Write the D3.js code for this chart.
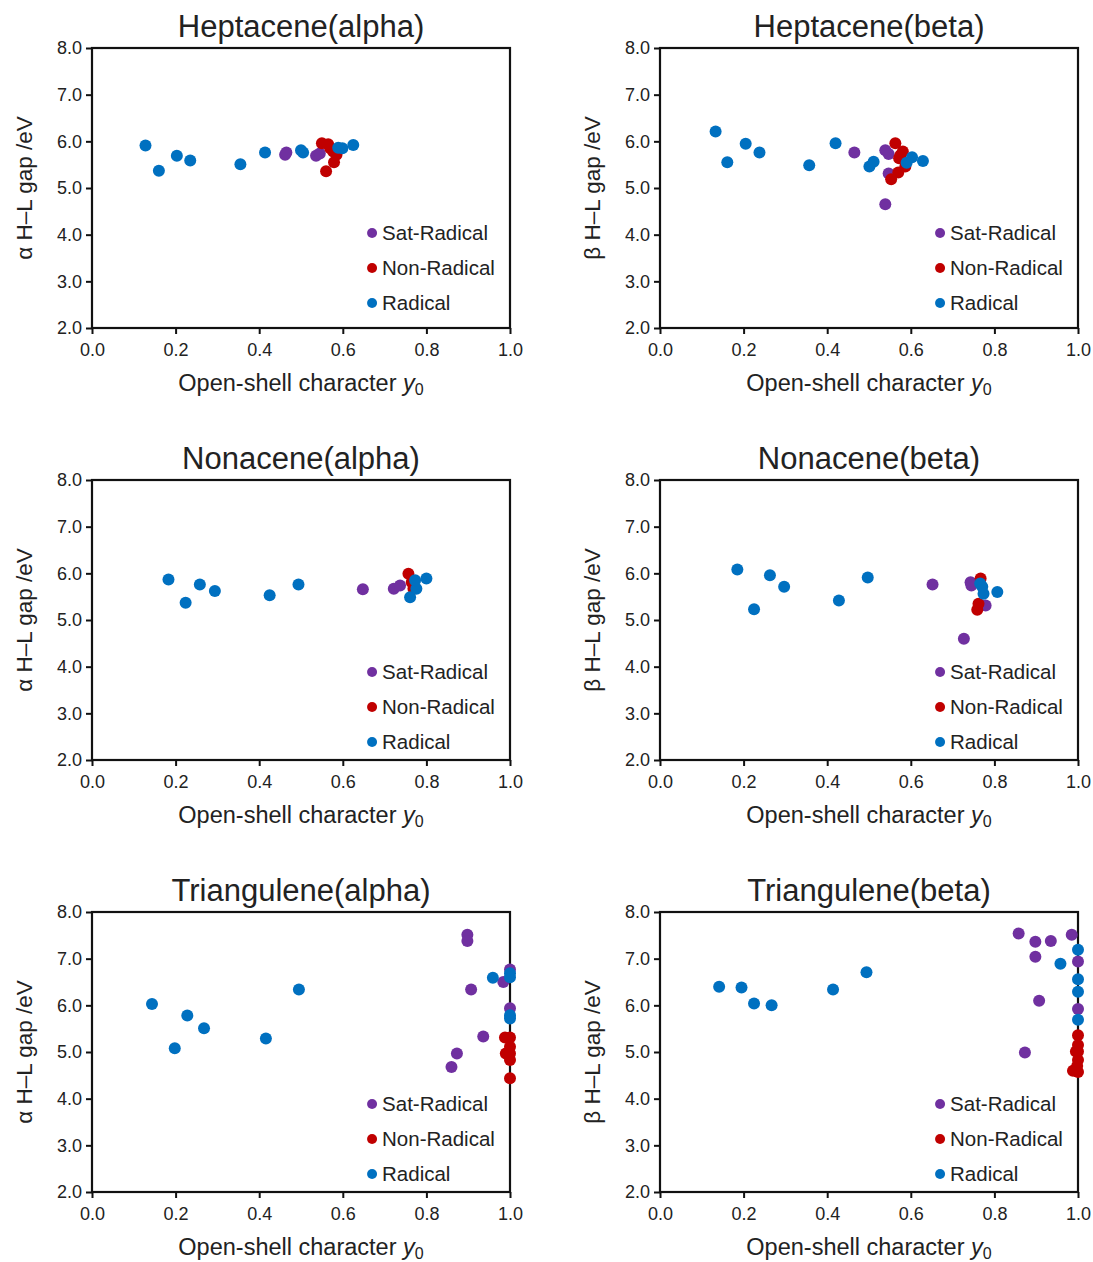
<!DOCTYPE html>
<html>
<head>
<meta charset="utf-8">
<script src="https://cdn.jsdelivr.net/npm/d3@7"></script>
<style>
  body { margin: 0; background: #fff; }
  text { font-family: Arial, "Liberation Sans", sans-serif; fill: #222; }
</style>
</head>
<body>
<div id="chart"></div>
<script>
// [open-shell character y0, H-L gap eV]
var heptaAlphaSat = [[0.462,5.71],[0.465,5.76],[0.536,5.69],[0.545,5.74]];
var heptaAlphaNon = [[0.55,5.96],[0.565,5.94],[0.57,5.85],[0.577,5.78],[0.585,5.71],[0.579,5.55],[0.56,5.36]];
var heptaAlphaRad = [[0.128,5.91],[0.16,5.37],[0.203,5.69],[0.235,5.59],[0.355,5.51],[0.414,5.76],[0.50,5.81],[0.505,5.76],[0.589,5.86],[0.599,5.85],[0.625,5.92]];

var heptaBetaSat = [[0.465,5.76],[0.539,5.81],[0.547,5.73],[0.547,5.31],[0.539,4.65]];
var heptaBetaNon = [[0.563,5.96],[0.581,5.78],[0.575,5.70],[0.572,5.64],[0.587,5.46],[0.57,5.33],[0.553,5.19]];
var heptaBetaRad = [[0.133,6.21],[0.161,5.55],[0.205,5.95],[0.238,5.76],[0.357,5.49],[0.42,5.96],[0.501,5.46],[0.511,5.56],[0.59,5.54],[0.603,5.66],[0.629,5.58]];

var nonaAlphaSat = [[0.648,5.66],[0.722,5.67],[0.737,5.74]];
var nonaAlphaNon = [[0.757,5.99],[0.765,5.81],[0.769,5.67]];
var nonaAlphaRad = [[0.183,5.87],[0.224,5.37],[0.258,5.76],[0.294,5.62],[0.425,5.53],[0.494,5.76],[0.761,5.49],[0.776,5.67],[0.773,5.85],[0.80,5.89]];

var nonaBetaSat = [[0.652,5.76],[0.743,5.81],[0.745,5.74],[0.779,5.31],[0.727,4.6]];
var nonaBetaNon = [[0.767,5.89],[0.762,5.35],[0.759,5.22]];
var nonaBetaRad = [[0.185,6.08],[0.225,5.23],[0.263,5.96],[0.297,5.71],[0.428,5.42],[0.497,5.91],[0.766,5.78],[0.771,5.71],[0.774,5.56],[0.807,5.60]];

var triAlphaSat = [[0.898,7.51],[0.898,7.38],[0.907,6.34],[0.984,6.50],[1.0,6.77],[1.0,5.94],[0.936,5.33],[0.873,4.97],[0.86,4.68]];
var triAlphaNon = [[0.988,5.31],[1.0,5.31],[1.0,5.11],[0.99,4.97],[1.0,4.97],[1.0,4.83],[1.0,4.44]];
var triAlphaRad = [[0.1435,6.03],[0.198,5.08],[0.228,5.78],[0.268,5.51],[0.416,5.29],[0.495,6.34],[0.959,6.59],[1.0,6.69],[1.0,6.60],[1.0,5.79],[1.0,5.72]];

var triBetaSat = [[0.858,7.54],[0.898,7.36],[0.935,7.38],[0.985,7.51],[0.898,7.04],[1.0,6.94],[0.907,6.10],[1.0,5.92],[0.873,4.99]];
var triBetaNon = [[1.0,5.36],[1.0,5.15],[0.995,5.01],[1.0,5.01],[1.0,4.83],[0.988,4.60],[1.0,4.57],[0.998,4.70]];
var triBetaRad = [[0.1415,6.40],[0.195,6.38],[0.225,6.04],[0.267,6.0],[0.414,6.34],[0.494,6.71],[0.958,6.89],[1.0,7.19],[1.0,6.56],[1.0,6.29],[1.0,5.69]];

var titles = ["Heptacene(alpha)", "Heptacene(beta)", "Nonacene(alpha)", "Nonacene(beta)", "Triangulene(alpha)", "Triangulene(beta)"];
var yLabels = ["\u03b1 H\u2013L gap /eV", "\u03b2 H\u2013L gap /eV"];
var seriesNames = ["Sat-Radical", "Non-Radical", "Radical"];
var colors = ["#7030a0", "#c00000", "#0070c0"];
var xTicks = [0, 0.2, 0.4, 0.6, 0.8, 1.0];
var yTicks = [2, 3, 4, 5, 6, 7, 8];

var panelData = [
  [heptaAlphaSat, heptaAlphaNon, heptaAlphaRad],
  [heptaBetaSat, heptaBetaNon, heptaBetaRad],
  [nonaAlphaSat, nonaAlphaNon, nonaAlphaRad],
  [nonaBetaSat, nonaBetaNon, nonaBetaRad],
  [triAlphaSat, triAlphaNon, triAlphaRad],
  [triBetaSat, triBetaNon, triBetaRad]
];

var width = 1093, height = 1262;
var lefts = [92, 660], tops = [48, 480, 912];
var w = 418, h = 280;
var legendTop = [185, 192, 192];

var svg = d3.select("#chart").append("svg")
    .attr("width", width)
    .attr("height", height);

var x = d3.scaleLinear().domain([0, 1]).range([0, w]);
var y = d3.scaleLinear().domain([2, 8]).range([h, 0]);

panelData.forEach(function(series, i) {
    var col = i % 2, row = Math.floor(i / 2);
    var g = svg.append("g")
        .attr("transform", "translate(" + lefts[col] + "," + tops[row] + ")");

    // title
    g.append("text")
        .attr("x", w / 2).attr("y", -11)
        .attr("text-anchor", "middle")
        .style("font-size", "31px")
        .text(titles[i]);

    // axes
    var xAxis = g.append("g")
        .attr("transform", "translate(0," + h + ")")
        .call(d3.axisBottom(x).tickValues(xTicks).tickFormat(d3.format(".1f")).tickSizeOuter(0).tickSize(6).tickPadding(9));
    var yAxis = g.append("g")
        .call(d3.axisLeft(y).tickValues(yTicks).tickFormat(d3.format(".1f")).tickSizeOuter(0).tickSize(6).tickPadding(4));
    [xAxis, yAxis].forEach(function(a) {
        a.select(".domain").remove();
        a.selectAll("line").attr("stroke", "#111").attr("stroke-width", 2);
        a.selectAll("text").style("font-size", "18px").attr("fill", "#222");
    });

    // frame
    g.append("rect")
        .attr("width", w).attr("height", h)
        .attr("fill", "none")
        .attr("stroke", "#111")
        .attr("stroke-width", 2.2);

    // points, Radical drawn last
    series.forEach(function(pts, s) {
        g.append("g").selectAll("circle")
            .data(pts)
            .join("circle")
            .attr("cx", d => x(d[0]))
            .attr("cy", d => y(d[1]))
            .attr("r", 6)
            .attr("fill", colors[s]);
    });

    // legend
    var lg = g.append("g").attr("transform", "translate(" + (w * 0.67) + "," + legendTop[row] + ")");
    seriesNames.forEach(function(n, s) {
        lg.append("circle").attr("cx", 0).attr("cy", s * 35).attr("r", 5).attr("fill", colors[s]);
        lg.append("text").attr("x", 10).attr("y", s * 35 + 7)
            .style("font-size", "20.5px").text(n);
    });

    // axis labels
    var xl = g.append("text")
        .attr("x", w / 2).attr("y", h + 63)
        .attr("text-anchor", "middle")
        .style("font-size", "23.5px");
    xl.append("tspan").text("Open-shell character ");
    xl.append("tspan").style("font-style", "italic").text("y");
    xl.append("tspan").attr("dy", 4).style("font-size", "16px").text("0");

    g.append("text")
        .attr("transform", "translate(-60," + (h / 2) + ") rotate(-90)")
        .attr("text-anchor", "middle")
        .style("font-size", "22.5px")
        .text(yLabels[col]);
});
</script>
</body>
</html>
